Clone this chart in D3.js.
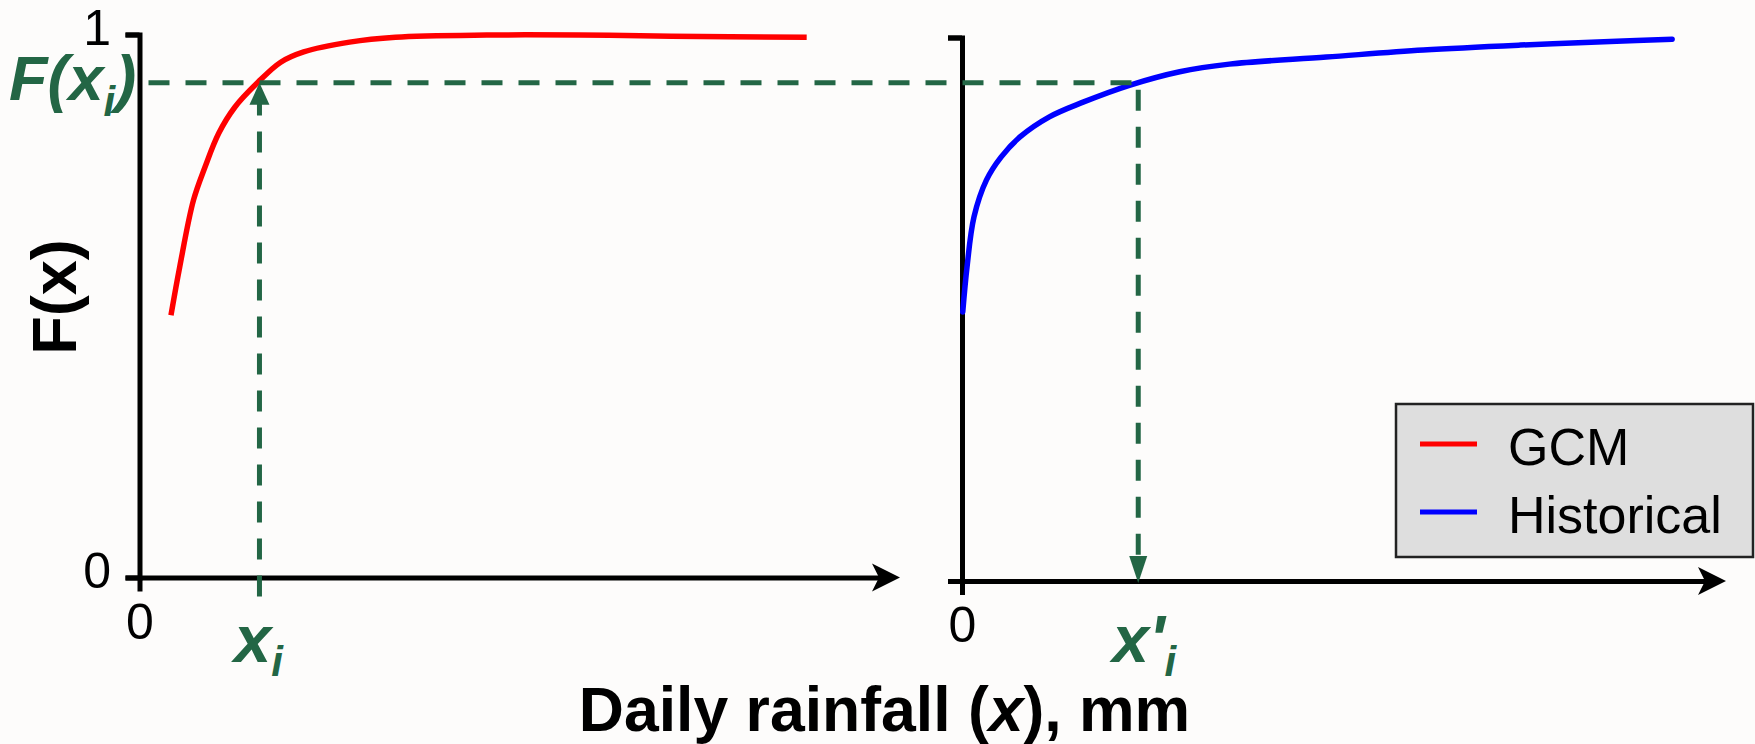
<!DOCTYPE html>
<html>
<head>
<meta charset="utf-8">
<script src="https://cdn.jsdelivr.net/npm/d3@7"></script>
<style>
  html, body { margin: 0; padding: 0; background: #fdfcfb; }
  svg { display: block; font-family: "Liberation Sans", Arial, sans-serif; }
</style>
</head>
<body>
<svg id="chart" width="1755" height="744"></svg>
<script>
// Empirical CDFs of daily rainfall (mm): GCM output (left) and historical record (right)
const gcmRain  = [4.25, 5.43, 7.29, 8.85, 10.7, 12.87, 16.0, 19.07, 22.17, 28.37, 34.57, 46.9, 59.35, 71.8, 90.1];
const gcmCdf   = [0.483, 0.572, 0.695, 0.756, 0.818, 0.866, 0.912, 0.949, 0.968, 0.986, 0.995, 0.999, 0.999, 0.997, 0.995];
const histRain = [0.1, 0.68, 1.62, 3.31, 5.27, 7.83, 11.8, 16.35, 22.6, 29.4, 36.1, 49.2, 62.3, 75.4, 88.4, 95.9];
const histCdf  = [0.495, 0.578, 0.670, 0.738, 0.780, 0.817, 0.854, 0.881, 0.912, 0.937, 0.951, 0.964, 0.977, 0.986, 0.993, 0.997];

// Quantile mapping: x_i -> F(x_i) -> x'_i
const xi = 16.2;
const fxi = 0.911;
const xiPrime = 23.8;

const yTicks = [0, 1];
const xTicks = [0];
const seriesNames = ["GCM", "Historical"];

const svg = d3.select("#chart");
const green = "#236645";
const pxPerUnit = 7.405;

const panels = [
  { x0: 139.5, y0: 577.5, y1: 34.5, xEnd: 879, rain: gcmRain, cdf: gcmCdf, color: "#ff0000", yLabels: true, cap: "butt" },
  { x0: 962, y0: 581, y1: 37.5, xEnd: 1705, rain: histRain, cdf: histCdf, color: "#0000ff", yLabels: false, cap: "round" }
];

const scales = panels.map(p => {
  const x = d3.scaleLinear().domain([0, 100]).range([p.x0, p.x0 + 100 * pxPerUnit]);
  const y = d3.scaleLinear().domain([0, 1]).range([p.y0, p.y1]);
  return { x, y };
});

panels.forEach((p, i) => {
  const { x, y } = scales[i];
  const g = svg.append("g");

  // x axis runs a little past the data to the arrow head
  const xAxisScale = d3.scaleLinear().domain([0, x.invert(p.xEnd)]).range([p.x0, p.xEnd]);
  const gx = g.append("g")
    .attr("transform", `translate(0,${p.y0})`)
    .call(d3.axisBottom(xAxisScale).tickValues(xTicks).tickSize(14).tickSizeOuter(0)
      .tickPadding(11.5).tickFormat(d3.format("d")));
  gx.select(".domain").attr("stroke", "#000").attr("stroke-width", 5);
  gx.selectAll(".tick line").attr("stroke", "#000").attr("stroke-width", 5);
  gx.selectAll(".tick text").attr("font-size", 50).attr("fill", "#000")
    .attr("font-family", "'Liberation Sans', Arial, sans-serif");

  const tip = p.xEnd + 21;
  g.append("path")
    .attr("d", `M${tip},${p.y0} L${tip - 28},${p.y0 - 14} L${p.xEnd},${p.y0} L${tip - 28},${p.y0 + 14} Z`)
    .attr("fill", "#000");

  const gy = g.append("g")
    .attr("transform", `translate(${p.x0},0)`)
    .call(d3.axisLeft(y).tickValues(yTicks).tickSize(14).tickSizeOuter(14)
      .tickPadding(14.5).tickFormat(p.yLabels ? d3.format("d") : () => ""));
  gy.select(".domain").attr("stroke", "#000").attr("stroke-width", 5);
  gy.selectAll(".tick line").attr("stroke", "#000").attr("stroke-width", 5);
  gy.selectAll(".tick text").attr("font-size", 50).attr("fill", "#000").attr("dy", "0.2em")
    .attr("font-family", "'Liberation Sans', Arial, sans-serif");

  const pts = p.rain.map((r, k) => [r, p.cdf[k]]);
  g.append("path")
    .datum(pts)
    .attr("fill", "none")
    .attr("stroke", p.color)
    .attr("stroke-width", 5.5)
    .attr("stroke-linecap", p.cap)
    .attr("stroke-linejoin", "round")
    .attr("d", d3.line().x(d => x(d[0])).y(d => y(d[1])).curve(d3.curveCatmullRom.alpha(0.5)));
});

// Mapping guides
const L = scales[0], R = scales[1];
const yMap = L.y(fxi);
const guides = svg.append("g").attr("stroke", green).attr("stroke-width", 5)
  .attr("stroke-dasharray", "21,16").attr("fill", "none");

guides.append("line")
  .attr("x1", L.x(0) + 9).attr("x2", R.x(xiPrime))
  .attr("y1", yMap).attr("y2", yMap);

guides.append("line")
  .attr("x1", L.x(xi)).attr("x2", L.x(xi))
  .attr("y1", L.y(0) + 19).attr("y2", yMap + 20);

guides.append("line")
  .attr("x1", R.x(xiPrime)).attr("x2", R.x(xiPrime))
  .attr("y1", yMap + 7).attr("y2", R.y(0) - 24);

svg.append("path")
  .attr("d", `M${L.x(xi)},${yMap} L${L.x(xi) - 10},${yMap + 22} L${L.x(xi) + 10},${yMap + 22} Z`)
  .attr("fill", green);
svg.append("path")
  .attr("d", `M${R.x(xiPrime)},${R.y(0) + 2} L${R.x(xiPrime) - 9},${R.y(0) - 25} L${R.x(xiPrime) + 9},${R.y(0) - 25} Z`)
  .attr("fill", green);

// Guide labels
const fLabel = svg.append("text")
  .attr("x", 9).attr("y", yMap + 17)
  .attr("font-size", 63).attr("font-weight", "bold").attr("font-style", "italic")
  .attr("fill", green);
fLabel.append("tspan").text("F(x");
fLabel.append("tspan").attr("font-size", 42).attr("dy", 16).text("i");
fLabel.append("tspan").attr("dy", -16).text(")");

const xiLabel = svg.append("text")
  .attr("x", L.x(xi) - 1).attr("y", 662).attr("text-anchor", "middle")
  .attr("font-size", 67).attr("font-weight", "bold").attr("font-style", "italic")
  .attr("fill", green);
xiLabel.append("tspan").text("x");
xiLabel.append("tspan").attr("font-size", 42).attr("dy", 14).text("i");

const xpLabel = svg.append("text")
  .attr("x", R.x(xiPrime) + 6).attr("y", 662).attr("text-anchor", "middle")
  .attr("font-size", 66).attr("font-weight", "bold").attr("font-style", "italic")
  .attr("fill", green);
xpLabel.append("tspan").text("x'");
xpLabel.append("tspan").attr("font-size", 42).attr("dy", 14).text("i");

// Axis titles
const xTitle = svg.append("text")
  .attr("x", 884.5).attr("y", 731).attr("text-anchor", "middle")
  .attr("font-size", 62.5).attr("font-weight", "bold").attr("fill", "#000");
xTitle.append("tspan").text("Daily rainfall (");
xTitle.append("tspan").attr("font-style", "italic").text("x");
xTitle.append("tspan").text("), mm");

svg.append("text")
  .attr("transform", "translate(76,297) rotate(-90)")
  .attr("text-anchor", "middle")
  .attr("font-size", 63).attr("font-weight", "bold").attr("fill", "#000")
  .text("F(x)");

// Legend
const legend = svg.append("g");
legend.append("rect")
  .attr("x", 1396).attr("y", 404).attr("width", 357).attr("height", 153)
  .attr("fill", "#dedede").attr("stroke", "#222").attr("stroke-width", 2.5);
const legendColors = [panels[0].color, panels[1].color];
seriesNames.forEach((name, k) => {
  const cy = 444 + k * 68;
  legend.append("line")
    .attr("x1", 1420).attr("x2", 1477).attr("y1", cy).attr("y2", cy)
    .attr("stroke", legendColors[k]).attr("stroke-width", 5);
  legend.append("text")
    .attr("x", 1508).attr("y", cy + 21)
    .attr("font-size", 52).attr("fill", "#000")
    .text(name);
});
</script>
</body>
</html>
